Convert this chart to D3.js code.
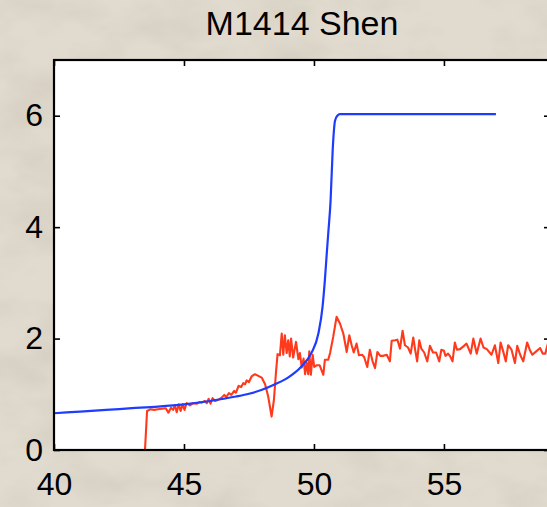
<!DOCTYPE html>
<html>
<head>
<meta charset="utf-8">
<script src="https://cdn.jsdelivr.net/npm/d3@7/dist/d3.min.js"></script>
<style>
  html, body { margin: 0; padding: 0; background: #dcd5c8; overflow: hidden; }
  svg { display: block; }
</style>
</head>
<body>
<script>
// Chart title and tick labels
const chartTitle = "M1414 Shen";
const xTicks = [40, 45, 50, 55];
const yTicks = [0, 2, 4, 6];

// Blue model curve
const blueX = [40, 41, 42, 43, 44, 45, 46, 47, 47.5, 48, 48.5, 49, 49.5, 49.9, 50.17, 50.33, 50.42, 50.49, 50.55, 50.64, 50.72, 50.81, 50.9, 51.0, 57.0];
const blueY = [0.66, 0.69, 0.72, 0.75, 0.78, 0.82, 0.88, 0.96, 1.01, 1.08, 1.18, 1.30, 1.49, 1.74, 2.09, 2.57, 3.05, 3.51, 3.89, 4.48, 5.38, 5.91, 6.0, 6.03, 6.03];

// Red measured trace
const redX = [43.50, 43.58, 43.70, 43.85, 44.00, 44.15, 44.30, 44.40, 44.50, 44.58, 44.65, 44.72, 44.80, 44.87, 44.95, 45.02, 45.10, 45.23, 45.35, 45.49,
  45.60, 45.68, 45.80, 45.88, 45.95, 46.02, 46.10, 46.20, 46.32, 46.45, 46.55, 46.62, 46.73, 46.82, 46.93, 47.00, 47.10, 47.20, 47.28, 47.35,
  47.41, 47.50, 47.60, 47.73, 47.86, 47.99, 48.12, 48.24, 48.37, 48.46, 48.54, 48.60, 48.69, 48.76, 48.82, 48.88, 48.95, 49.01, 49.07, 49.12,
  49.20, 49.31, 49.40, 49.46, 49.53, 49.60, 49.66, 49.72, 49.78, 49.82, 49.88, 49.95, 50.01, 50.10, 50.22, 50.36, 50.42, 50.55, 50.62, 50.74,
  50.87, 51.00, 51.13, 51.26, 51.36, 51.45, 51.53, 51.64, 51.73, 51.85, 51.93, 52.05, 52.15, 52.25, 52.35, 52.44, 52.55, 52.67, 52.80, 52.92,
  52.99, 53.12, 53.21, 53.31, 53.41, 53.50, 53.62, 53.72, 53.82, 53.90, 53.97, 54.05, 54.13, 54.24, 54.36, 54.46, 54.58, 54.70, 54.82, 54.90,
  55.00, 55.06, 55.16, 55.24, 55.33, 55.42, 55.50, 55.62, 55.75, 55.87, 55.95, 56.03, 56.13, 56.26, 56.41, 56.52, 56.65, 56.83, 56.96, 57.09,
  57.18, 57.28, 57.38, 57.47, 57.60, 57.73, 57.82, 57.94, 58.05, 58.20, 58.30, 58.40, 58.55, 58.70, 58.80, 58.90, 59.00, 59.10];
const redY = [0.00, 0.70, 0.73, 0.72, 0.73, 0.74, 0.75, 0.67, 0.76, 0.72, 0.80, 0.68, 0.82, 0.70, 0.82, 0.72, 0.84, 0.80, 0.84, 0.83,
  0.86, 0.85, 0.88, 0.84, 0.92, 0.83, 0.93, 0.88, 0.90, 0.94, 0.99, 0.95, 1.02, 0.99, 1.06, 1.03, 1.15, 1.13, 1.20, 1.18,
  1.25, 1.22, 1.32, 1.36, 1.33, 1.30, 1.18, 0.96, 0.60, 0.90, 1.40, 1.72, 1.70, 2.09, 1.71, 2.06, 1.74, 1.97, 1.68, 2.00,
  1.66, 1.94, 1.63, 1.74, 1.48, 1.64, 1.36, 1.56, 1.36, 1.77, 1.35, 1.71, 1.49, 1.52, 1.52, 1.35, 1.62, 1.62, 1.74, 2.03,
  2.39, 2.27, 2.09, 1.76, 2.06, 1.88, 1.75, 1.91, 1.70, 1.71, 1.67, 1.49, 1.80, 1.60, 1.47, 1.76, 1.69, 1.69, 1.71, 1.59,
  1.96, 1.97, 1.98, 1.82, 2.14, 1.88, 1.84, 1.73, 2.02, 1.78, 1.59, 1.97, 1.82, 1.75, 1.59, 1.87, 1.75, 1.75, 1.59, 1.80,
  1.78, 1.69, 1.73, 1.68, 1.59, 1.93, 1.80, 1.81, 1.86, 1.91, 1.82, 1.73, 2.00, 1.73, 2.00, 1.84, 1.81, 1.71, 1.88, 1.56,
  1.93, 1.77, 1.59, 1.88, 1.80, 1.56, 1.87, 1.70, 1.59, 1.93, 1.80, 1.71, 1.77, 1.83, 1.73, 1.73, 1.91, 1.85];

const W = 547, H = 507;
const plot = { left: 54, top: 60, right: 550, bottom: 450 };
const font = "'Liberation Sans', Arial, Helvetica, sans-serif";

const svg = d3.select("body").append("svg").attr("width", W).attr("height", H);
const defs = svg.append("defs");

// Paper-like backdrop
const paper = defs.append("filter").attr("id", "paper")
  .attr("x", 0).attr("y", 0).attr("width", "100%").attr("height", "100%");
paper.append("feTurbulence").attr("type", "fractalNoise")
  .attr("baseFrequency", "0.012 0.02").attr("numOctaves", 4).attr("seed", 7);
paper.append("feColorMatrix").attr("type", "matrix")
  .attr("values", "0 0 0 0 0.55  0 0 0 0 0.50  0 0 0 0 0.42  0.9 0 0 0 -0.38");
svg.append("rect").attr("width", W).attr("height", H).attr("fill", "#e1dbcf");
svg.append("rect").attr("width", W).attr("height", H).attr("filter", "url(#paper)");

defs.append("clipPath").attr("id", "plotClip").append("rect")
  .attr("x", plot.left).attr("y", plot.top)
  .attr("width", plot.right - plot.left).attr("height", plot.bottom - plot.top);

const x = d3.scaleLinear().domain([40, 59.08]).range([plot.left, plot.right]);
const y = d3.scaleLinear().domain([0, 7]).range([plot.bottom, plot.top]);

// Plot area
svg.append("rect").attr("x", plot.left).attr("y", plot.top)
  .attr("width", plot.right - plot.left).attr("height", plot.bottom - plot.top)
  .attr("fill", "#ffffff");

const lines = svg.append("g").attr("clip-path", "url(#plotClip)");

lines.append("path")
  .datum(redX.map((v, i) => [v, redY[i]]))
  .attr("d", d3.line().x(d => x(d[0])).y(d => y(d[1])).curve(d3.curveLinear))
  .attr("fill", "none").attr("stroke", "#ff3a1c").attr("stroke-width", 2.1)
  .attr("stroke-linejoin", "round");

lines.append("path")
  .datum(blueX.map((v, i) => [v, blueY[i]]))
  .attr("d", d3.line().x(d => x(d[0])).y(d => y(d[1])).curve(d3.curveMonotoneX))
  .attr("fill", "none").attr("stroke", "#1d3cff").attr("stroke-width", 2.2);

// Axes: ticks point inward on all four sides
function styleAxis(g) {
  g.select(".domain").remove();
  g.selectAll(".tick line").attr("stroke", "#000").attr("stroke-width", 1.6);
  g.selectAll("text").attr("fill", "#000").style("font-family", font).style("font-size", "32px");
}

svg.append("g").attr("transform", `translate(0,${plot.bottom})`)
  .call(d3.axisBottom(x).tickValues(xTicks).tickSize(-6).tickPadding(22).tickFormat(d3.format("d")))
  .call(styleAxis);
svg.append("g").attr("transform", `translate(0,${plot.top})`)
  .call(d3.axisTop(x).tickValues(xTicks).tickSize(-6).tickFormat(""))
  .call(styleAxis);
svg.append("g").attr("transform", `translate(${plot.left},0)`)
  .call(d3.axisLeft(y).tickValues(yTicks).tickSize(-6).tickPadding(11).tickFormat(d3.format("d")))
  .call(styleAxis);
svg.append("g").attr("transform", `translate(${plot.right},0)`)
  .call(d3.axisRight(y).tickValues(yTicks).tickSize(-6).tickFormat(""))
  .call(styleAxis);

// Frame
svg.append("rect").attr("x", plot.left).attr("y", plot.top)
  .attr("width", plot.right - plot.left).attr("height", plot.bottom - plot.top)
  .attr("fill", "none").attr("stroke", "#000").attr("stroke-width", 2.2);

// Title
svg.append("text").attr("x", (plot.left + plot.right) / 2).attr("y", 35)
  .attr("text-anchor", "middle").style("font-family", font).style("font-size", "34px")
  .attr("fill", "#000").text(chartTitle);
</script>
</body>
</html>
